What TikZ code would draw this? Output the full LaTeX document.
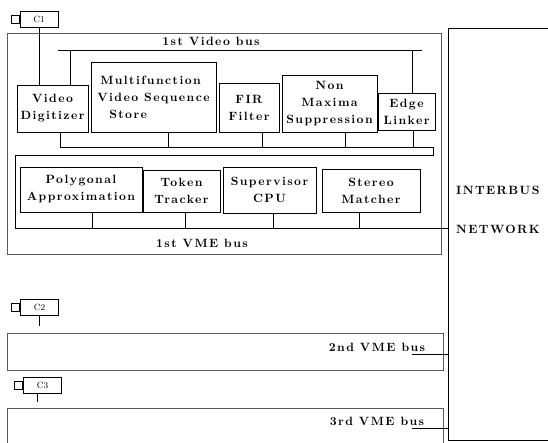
\documentclass[tikz,border=0pt]{standalone}
\usepackage{fontspec}
\newfontfamily\spfont{lmroman10-bold.otf}[LetterSpace=12]
\newcommand\lbl{\spfont\fontsize{12}{17}\selectfont}
\newcommand\clbl{\fontsize{9}{10}\selectfont}
\tikzset{
  blk/.style={draw, line width=0.9pt, inner sep=0pt, align=center, font=\lbl},
  bus/.style={line width=0.8pt},
  frame/.style={draw=black!65, line width=0.7pt},
  cbox/.style={draw, line width=0.7pt, inner sep=0pt, minimum width=38pt, minimum height=16pt, font=\clbl},
  plug/.style={draw, line width=0.7pt, inner sep=0pt, minimum size=8pt},
  txt/.style={font=\lbl, inner sep=0pt},
}
\begin{document}
\begin{tikzpicture}[x=1pt,y=-1pt]
\useasboundingbox (0,0) rectangle (548,443);
\fill[white] (0,0) rectangle (548,443);
\clip (0,0) rectangle (548,443);

% cluster frames
\draw[frame] (7,33) rectangle (441,254);
\draw[frame] (7,333) rectangle (443,370);
\draw[frame] (7,408) rectangle (443,470);

% interbus network
\node[draw, line width=0.9pt, minimum width=130pt, minimum height=412pt, anchor=north west, inner sep=0pt] (net) at (448,28) {};
\node[txt, anchor=west] (ib) at (456,190) {INTERBUS};
\node[txt, anchor=west] (nw) at (456,229) {NETWORK};

% C labels
\node[cbox] (c1) at (39,19) {C1};
\node[plug, anchor=east] (s1) at (c1.west) {};
\node[cbox] (c2) at (39.5,307) {C2};
\node[plug, anchor=east] (s2) at (c2.west) {};
\node[cbox] (c3) at (42.5,385) {C3};
\node[plug, anchor=east] (s3) at (c3.west) {};

% row 1
\node[blk, minimum width=71pt, minimum height=47pt] (vd) at (52.5,108.5) {Video\\Digitizer};
\node[blk, minimum width=125pt, minimum height=70pt, align=left] (mvs) at (153.5,97) {\hspace*{3pt}Multifunction\\Video Sequence\\\hspace*{12pt}Store};
\node[blk, minimum width=60pt, minimum height=49pt] (fir) at (249,107.5) {FIR\\Filter};
\node[blk, minimum width=95pt, minimum height=57pt] (nms) at (329.5,103.5) {Non\\Maxima\\Suppression};
\node[blk, minimum width=57pt, minimum height=37pt] (el) at (406.5,111.5) {Edge\\Linker};

% row 2
\node[blk, minimum width=122pt, minimum height=45pt] (pa) at (81,189.5) {Polygonal\\Approximation};
\node[blk, minimum width=77pt, minimum height=42pt] (tt) at (181.5,191) {Token\\Tracker};
\node[blk, minimum width=93pt, minimum height=46pt] (sc) at (269.5,190) {Supervisor\\CPU};
\node[blk, minimum width=98pt, minimum height=43pt] (sm) at (371,190.5) {Stereo\\Matcher};

% 1st video bus
\coordinate (vb1) at (58,50);
\coordinate (vb2) at (422,50);
\draw[bus] (vb1) -- (vb2);
\node[txt] (vbl) at (211,41) {1st Video bus};
\coordinate (t1) at (70,50);
\coordinate (t2) at (412,50);
\draw[bus] (t1) -- (t1 |- vd.north);
\draw[bus] (t2) -- (t2 |- el.north);
\draw[line width=0.7pt] (c1.south) -- (c1.south |- vd.north);

% row-1 bottom link and 1st VME bus
\coordinate (b1L) at (60,147);
\coordinate (b1R) at (433,147);
\coordinate (b1R2) at (433,155);
\coordinate (b1L2) at (15,155);
\coordinate (vmeL) at (15,228);
\draw[bus] (b1L) -- (b1R) -- (b1R2) -- (b1L2) -- (vmeL) -- (vmeL -| net.west);
\coordinate (d1) at (60,147);
\coordinate (d2) at (168,147);
\coordinate (d3) at (262,147);
\coordinate (d4) at (345,147);
\coordinate (d5) at (413,147);
\draw[bus] (d1 |- vd.south) -- (d1);
\draw[bus] (d2 |- mvs.south) -- (d2);
\draw[bus] (d3 |- fir.south) -- (d3);
\draw[bus] (d4 |- nms.south) -- (d4);
\draw[bus] (d5 |- el.south) -- (d5);
\coordinate (e1) at (92,228);
\coordinate (e2) at (185,228);
\coordinate (e3) at (273,228);
\coordinate (e4) at (359,228);
\draw[bus] (e1 |- pa.south) -- (e1);
\draw[bus] (e2 |- tt.south) -- (e2);
\draw[bus] (e3 |- sc.south) -- (e3);
\draw[bus] (e4 |- sm.south) -- (e4);
\node[txt] (vme1) at (202,243) {1st VME bus};

% 2nd and 3rd VME bus
\coordinate (k2) at (39.5,326);
\draw[line width=0.7pt] (c2.south) -- (k2);
\coordinate (k3) at (37,402);
\draw[line width=0.7pt] (k3 |- c3.south) -- (k3);
\node[txt] (vme2) at (377,347) {2nd VME bus};
\coordinate (v2) at (412,354);
\draw[bus] (v2) -- (v2 -| net.west);
\node[txt] (vme3) at (377,421) {3rd VME bus};
\coordinate (v3) at (412,428);
\draw[bus] (v3) -- (v3 -| net.west);
\end{tikzpicture}
\end{document}
